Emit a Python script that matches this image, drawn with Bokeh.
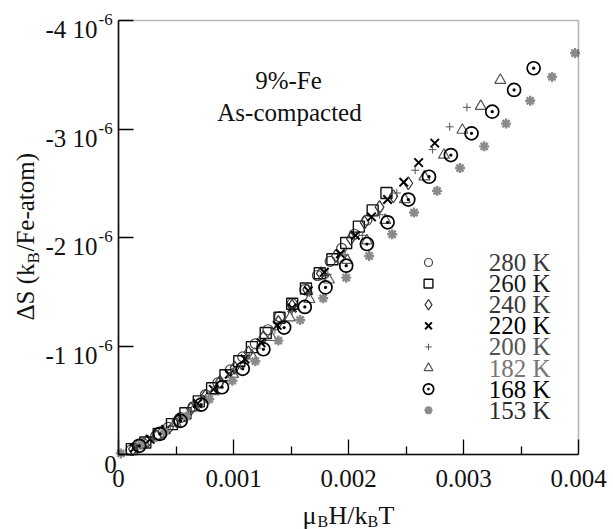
from bokeh.plotting import figure
from bokeh.models import Range1d, FixedTicker, Label, BoxAnnotation
from bokeh.embed import file_html
from bokeh.resources import INLINE

FONT = "Liberation Serif"

# ---------------- data (x = muB H / kB T ; dS in units of 1e-6 kB/Fe-atom) ----------------
labels = ["280 K", "260 K", "240 K", "220 K", "200 K", "182 K", "168 K", "153 K"]

x_280 = [0.000108, 0.000216, 0.000324, 0.000432, 0.00054, 0.000648, 0.000756, 0.000864, 0.000972, 0.00108,
         0.00119, 0.0013, 0.0014, 0.00151, 0.00162, 0.00173, 0.00184, 0.00194, 0.00205, 0.00216]
dS_280 = [-0.04, -0.10, -0.17, -0.25, -0.34, -0.44, -0.55, -0.66, -0.78, -0.90,
          -1.02, -1.15, -1.27, -1.39, -1.52, -1.65, -1.78, -1.90, -2.03, -2.16]

x_260 = [0.000116, 0.000233, 0.000349, 0.000465, 0.000582, 0.000698, 0.000814, 0.00093, 0.00105, 0.00116,
         0.00128, 0.0014, 0.00151, 0.00163, 0.00175, 0.00186, 0.00198, 0.00209, 0.00221, 0.00233]
dS_260 = [-0.05, -0.11, -0.19, -0.28, -0.38, -0.49, -0.61, -0.73, -0.86, -0.99,
          -1.12, -1.26, -1.39, -1.53, -1.67, -1.80, -1.95, -2.10, -2.25, -2.41]

x_240 = [0.000126, 0.000252, 0.000378, 0.000504, 0.00063, 0.000756, 0.000882, 0.00101, 0.00113, 0.00126,
         0.00139, 0.00151, 0.00164, 0.00176, 0.00189, 0.00202, 0.00214, 0.00227, 0.00239, 0.00252]
dS_240 = [-0.05, -0.12, -0.21, -0.31, -0.42, -0.54, -0.67, -0.80, -0.94, -1.08,
          -1.22, -1.37, -1.52, -1.67, -1.83, -1.99, -2.14, -2.28, -2.38, -2.50]

x_220 = [0.000138, 0.000275, 0.000413, 0.00055, 0.000688, 0.000825, 0.000963, 0.0011, 0.00124, 0.00138,
         0.00151, 0.00165, 0.00179, 0.00193, 0.00206, 0.0022, 0.00234, 0.00248, 0.00261, 0.00275]
dS_220 = [-0.06, -0.14, -0.23, -0.34, -0.47, -0.60, -0.74, -0.88, -1.03, -1.19,
          -1.35, -1.51, -1.68, -1.85, -2.02, -2.19, -2.35, -2.51, -2.69, -2.87]

x_200 = [0.000151, 0.000302, 0.000453, 0.000605, 0.000756, 0.000907, 0.00106, 0.00121, 0.00136, 0.00151,
         0.00166, 0.00182, 0.00197, 0.00212, 0.00227, 0.00242, 0.00258, 0.00273, 0.00288, 0.00303]
dS_200 = [-0.07, -0.15, -0.26, -0.38, -0.52, -0.67, -0.82, -0.98, -1.15, -1.32,
          -1.49, -1.66, -1.84, -2.02, -2.21, -2.41, -2.62, -2.81, -3.02, -3.20]

x_182 = [0.000166, 0.000332, 0.000498, 0.000664, 0.00083, 0.000996, 0.00116, 0.00133, 0.00149, 0.00166,
         0.00183, 0.00199, 0.00216, 0.00232, 0.00249, 0.00266, 0.00283, 0.00299, 0.00315, 0.00332]
dS_182 = [-0.08, -0.17, -0.29, -0.43, -0.58, -0.74, -0.91, -1.08, -1.26, -1.43,
          -1.61, -1.79, -1.97, -2.16, -2.35, -2.56, -2.76, -2.99, -3.21, -3.45]

x_168 = [0.00018, 0.00036, 0.00054, 0.00072, 0.0009, 0.00108, 0.00126, 0.00144, 0.00162, 0.0018,
         0.00198, 0.00216, 0.00234, 0.00252, 0.0027, 0.00289, 0.00307, 0.00325, 0.00344, 0.00361]
dS_168 = [-0.08, -0.19, -0.31, -0.46, -0.62, -0.79, -0.97, -1.17, -1.36, -1.54,
          -1.74, -1.94, -2.14, -2.35, -2.56, -2.76, -2.96, -3.16, -3.36, -3.56]

x_153 = [0.00002, 0.0002, 0.0004, 0.00059, 0.00079, 0.00099, 0.00119, 0.00139, 0.00158, 0.00178, 0.00198,
         0.00218, 0.00238, 0.00257, 0.00277, 0.00297, 0.00318, 0.00337, 0.00358, 0.00377, 0.00397]
dS_153 = [-0.01, -0.10, -0.21, -0.35, -0.51, -0.68, -0.86, -1.05, -1.24, -1.44, -1.63,
          -1.83, -2.03, -2.23, -2.43, -2.64, -2.84, -3.05, -3.26, -3.48, -3.70]

x_ticks = [0.0, 0.001, 0.002, 0.003, 0.004]
x_tick_labels = ["0", "0.001", "0.002", "0.003", "0.004"]
x_minor = [0.0005, 0.0015, 0.0025, 0.0035]
y_ticks = [0.0, -1.0, -2.0, -3.0, -4.0]
y_tick_main = ["0", "-1 10", "-2 10", "-3 10", "-4 10"]
y_tick_exp = "-6"

series_x = [x_280, x_260, x_240, x_220, x_200, x_182, x_168, x_153]
series_y = [dS_280, dS_260, dS_240, dS_220, dS_200, dS_182, dS_168, dS_153]

# ---------------- styles ----------------
styles = [
    dict(marker="circle", size=10, fill_color=None, line_color="#444444", line_width=1.2),
    dict(marker="square", size=11, fill_color=None, line_color="#111111", line_width=1.4),
    dict(marker="diamond", size=13, fill_color=None, line_color="#333333", line_width=1.2),
    dict(marker="x", size=12, line_color="#000000", line_width=2.0),
    dict(marker="cross", size=8, line_color="#555555", line_width=1.0),
    dict(marker="triangle", size=11, fill_color=None, line_color="#555555", line_width=1.2),
    dict(marker="circle_dot", size=13, fill_color=None, line_color="#000000", line_width=1.7),
    dict(marker="asterisk", size=10, line_color="#8a8a8a", line_width=2.4),
]
label_colors = ["#3a3a3a", "#1a1a1a", "#3a3a3a", "#000000", "#555555", "#777777", "#000000", "#2a2a2a"]
draw_order = [0, 1, 2, 3, 4, 5, 7, 6]

# ---------------- layout ----------------
W, H = 613, 529
BL, BR, BT, BB = 118, 578, 20, 454      # plotting box inside the canvas (px)
XR = (0.0, 0.004)
YR = (0.0, -4.0)
FW = BR - BL
FH = BB - BT
xpp = (XR[1] - XR[0]) / FW
ypp = (YR[1] - YR[0]) / FH
x_start, x_end = XR[0] - BL * xpp, XR[1] + (W - BR) * xpp
y_start, y_end = YR[0] - (H - BB) * ypp, YR[1] + BT * ypp


def dx(px):
    return x_start + px * xpp


def dy(py):
    return y_start + (H - py) * ypp


p = figure(width=W, height=H, x_range=Range1d(x_start, x_end), y_range=Range1d(y_start, y_end),
           output_backend="svg", toolbar_location=None,
           min_border_left=0, min_border_right=0, min_border_top=0, min_border_bottom=0)
p.grid.visible = False
p.outline_line_color = None
p.background_fill_color = "white"
p.border_fill_color = "white"

xa = p.xaxis[0]
xa.fixed_location = 0.0
xa.bounds = XR
xa.ticker = FixedTicker(ticks=x_ticks, minor_ticks=x_minor)
xa.major_label_overrides = {t: l for t, l in zip(x_ticks, x_tick_labels)}
xa.major_tick_in = 15
xa.major_tick_out = 0
xa.minor_tick_in = 8
xa.minor_tick_out = 0
xa.axis_line_width = 1.6
xa.axis_line_color = "#111111"
xa.major_tick_line_width = 1.3
xa.minor_tick_line_width = 1.3
xa.major_label_text_font = FONT
xa.major_label_text_font_size = "25px"
xa.major_label_text_color = "#111111"
xa.major_label_standoff = 15

ya = p.yaxis[0]
ya.fixed_location = 0.0
ya.bounds = (YR[1], YR[0])
ya.ticker = FixedTicker(ticks=y_ticks, minor_ticks=[])
ya.major_label_overrides = {t: "" for t in y_ticks}
ya.major_tick_in = 15
ya.major_tick_out = 0
ya.minor_tick_in = 0
ya.minor_tick_out = 0
ya.axis_line_width = 1.6
ya.axis_line_color = "#111111"
ya.major_tick_line_width = 1.3

# frame outline
p.add_layout(BoxAnnotation(left=XR[0], right=XR[1], bottom=YR[0], top=YR[1],
                           fill_alpha=0, line_color="#111111", line_width=1.6))

# data
for i in draw_order:
    p.scatter(series_x[i], series_y[i], **styles[i])

# y tick labels with superscript exponent
for t, m in zip(y_ticks, y_tick_main):
    if m == "0":
        p.add_layout(Label(x=0, y=t, x_offset=-8, y_offset=-10, text=m, text_align="center",
                           text_baseline="middle", text_font=FONT, text_font_size="25px",
                           text_color="#111111"))
        continue
    p.add_layout(Label(x=0, y=t, x_offset=-21, y_offset=-9, text=m, text_align="right",
                       text_baseline="middle", text_font=FONT, text_font_size="25px",
                       text_color="#111111"))
    p.add_layout(Label(x=0, y=t, x_offset=-20, y_offset=1, text=y_tick_exp, text_align="left",
                       text_baseline="middle", text_font=FONT, text_font_size="17px",
                       text_color="#111111"))

# axis titles (with subscripts)
txt = dict(text_font=FONT, text_color="#111111", text_baseline="middle")
xt = [("\u03bc", 184, -61, "26px"), ("B", 199, -67, "16px"), ("H/k", 210, -61, "26px"),
      ("B", 249, -67, "16px"), ("T", 260, -61, "26px")]
for s, xo, yo, fs in xt:
    p.add_layout(Label(x=0, y=0, x_offset=xo, y_offset=yo, text=s, text_align="left",
                       text_font_size=fs, **txt))
ya_x = 25 - BL
ya_y = BB - 263
p.add_layout(Label(x=0, y=0, x_offset=ya_x, y_offset=ya_y, text="\u0394S (k", angle=1.5708,
                   text_align="right", text_font_size="25px", **txt))
p.add_layout(Label(x=0, y=0, x_offset=ya_x + 8, y_offset=ya_y, text="B", angle=1.5708,
                   text_align="left", text_font_size="17px", **txt))
p.add_layout(Label(x=0, y=0, x_offset=ya_x, y_offset=ya_y + 12, text="/Fe-atom)", angle=1.5708,
                   text_align="left", text_font_size="25px", **txt))

# in-plot annotation
p.add_layout(Label(x=dx(288), y=dy(80), text="9%-Fe", text_align="center",
                   text_font_size="25px", **txt))
p.add_layout(Label(x=dx(289), y=dy(112), text="As-compacted", text_align="center",
                   text_font_size="25px", **txt))

# legend (manual, tight rows)
for i, lab in enumerate(labels):
    ry = dy(262 + i * 21.1)
    st = dict(styles[i])
    st["size"] = st["size"] * 0.8
    p.scatter([dx(428)], [ry], **st)
    p.add_layout(Label(x=dx(550), y=ry, text=lab, text_align="right", text_baseline="middle",
                       text_font=FONT, text_font_size="25px", text_color=label_colors[i]))

open("out.html", "w").write(file_html(p, INLINE))
